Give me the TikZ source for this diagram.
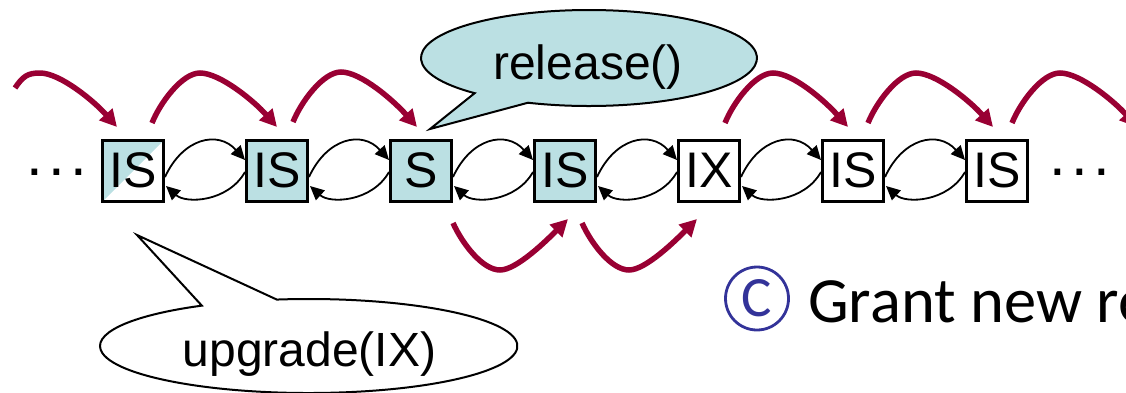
\documentclass[tikz,border=0pt]{standalone}
\usepackage{fontspec}
\setmainfont{Liberation Sans}
\newfontfamily\calibrifont{Carlito}
\usetikzlibrary{arrows.meta,calc}
\definecolor{lockteal}{RGB}{187,224,227}
\definecolor{grantred}{RGB}{153,0,51}
\definecolor{markblue}{RGB}{51,51,153}
\begin{document}
\begin{tikzpicture}[x=1pt,y=-1pt,
  lockbox/.style={draw, line width=3pt, minimum size=61pt, inner sep=0pt,
    text height=36pt, text depth=4pt, font=\fontsize{50}{50}\selectfont},
  held/.style={lockbox, fill=lockteal},
  link/.style={line width=1.8pt, -{Triangle[length=14pt,width=13pt]}},
  grant/.style={draw=grantred, line width=5.5pt, -{Triangle[length=17pt,width=17pt]}},
  bubble/.style={draw, line width=2pt, line join=miter},
  bubbletext/.style={font=\fontsize{48}{48}\selectfont, inner sep=0pt, anchor=base},
  dotsnode/.style={font=\fontsize{60}{60}\selectfont, inner sep=0pt}
]
\useasboundingbox (0,0) rectangle (1126,392);

% lock queue
\node[lockbox, path picture={\fill[lockteal] (path picture bounding box.south west)
   -- (path picture bounding box.north west) -- (path picture bounding box.north east) -- cycle;}]
   (b1) at (133,171) {IS};
\node[held]    (b2) at (277,171) {IS};
\node[held]    (b3) at (421,171) {S};
\node[held]    (b4) at (565,171) {IS};
\node[lockbox] (b5) at (709,171) {IX};
\node[lockbox] (b6) at (853,171) {IS};
\node[lockbox] (b7) at (997,171) {IS};

\node[dotsnode] (ldots) at (56.5,172.5) {.\hspace{5.4pt}.\hspace{5.4pt}.};
\node[dotsnode] (rdots) at (1080,172.5) {.\hspace{5.4pt}.\hspace{5.4pt}.};

% doubly linked list pointers
\foreach \p/\q in {b1/b2,b2/b3,b3/b4,b4/b5,b5/b6,b6/b7}{
  \draw[link] ($(\p.east)+(0,6)$) .. controls +(18,-39) and +(-27,-30) .. ($(\q.west)+(0,-11)$);
  \draw[link] ($(\q.west)+(0,1)$) .. controls +(-17,30) and +(20,18) .. ($(\p.east)+(1,15)$);
}

% grant arcs above the queue
\coordinate (a0) at (15,88);
\draw[grant] (a0) .. controls +(8,-12) and +(-12,0) .. ++(25,-15)
   .. controls +(20,0) and +(-23,-26) .. ($(b1.north)+(-16,-12)$);
\draw[grant] ($(b1.north)+(19,-16)$) .. controls +(8,-20) and +(-18,0) .. ++(48,-50)
   .. controls +(20,0) and +(-23,-26) .. ($(b2.north)+(0,-12)$);
\draw[grant] ($(b2.north)+(16,-17)$) .. controls +(8,-20) and +(-18,0) .. ++(48,-50)
   .. controls +(20,0) and +(-23,-26) .. ($(b3.north)+(-4,-12)$);
\draw[grant] ($(b5.north)+(16,-16)$) .. controls +(8,-20) and +(-18,0) .. ++(48,-50)
   .. controls +(20,0) and +(-23,-26) .. ($(b6.north)+(-5,-12)$);
\draw[grant] ($(b6.north)+(15,-16)$) .. controls +(8,-20) and +(-18,0) .. ++(48,-50)
   .. controls +(20,0) and +(-23,-26) .. ($(b7.north)+(-4,-12)$);
\draw[grant] ($(b7.north)+(15,-16)$) .. controls +(8,-20) and +(-18,0) .. ++(48,-50)
   .. controls +(20,0) and +(-23,-26) .. ($(b7.north)+(140,-12)$);

% grant arcs below the queue
\draw[grant] ($(b3.south)+(32,20)$) .. controls +(10,22) and +(-17,0) .. ++(47,47)
   .. controls +(17,0) and +(-20,20) .. ($(b4.south)+(3,16)$);
\draw[grant] ($(b4.south)+(17,20)$) .. controls +(10,22) and +(-17,0) .. ++(47,47)
   .. controls +(17,0) and +(-20,20) .. ($(b5.south)+(-12,16)$);

% callouts
\coordinate (relc) at (589,58);
\draw[bubble, fill=lockteal] ($(relc)+(132.9:168 and 48)$)
   arc[start angle=132.9, end angle=471.3, x radius=168, y radius=48]
   -- ($(b3.north)+(9,-10)$) -- cycle;
\node[bubbletext] (reltext) at (588,79) {release()};

\coordinate (upc) at (308.7,346);
\draw[bubble, fill=white] ($(upc)+(261.2:208.7 and 47)$)
   arc[start angle=261.2, end angle=599.2, x radius=208.7, y radius=47]
   -- ($(b1.south)+(4,32)$) -- cycle;
\node[bubbletext] (uptext) at (309.5,366) {upgrade(IX)};

% step marker and caption
\node[circle, draw=markblue, line width=2.8pt, minimum size=63pt, inner sep=0pt,
      text=markblue, font=\calibrifont\fontsize{57}{57}\selectfont] (mark) at (757,298.5) {C};
\node[anchor=base west, inner sep=0pt, font=\calibrifont\fontsize{64.5}{64.5}\selectfont]
      (grant) at (808,322) {Grant new re};
\end{tikzpicture}
\end{document}
